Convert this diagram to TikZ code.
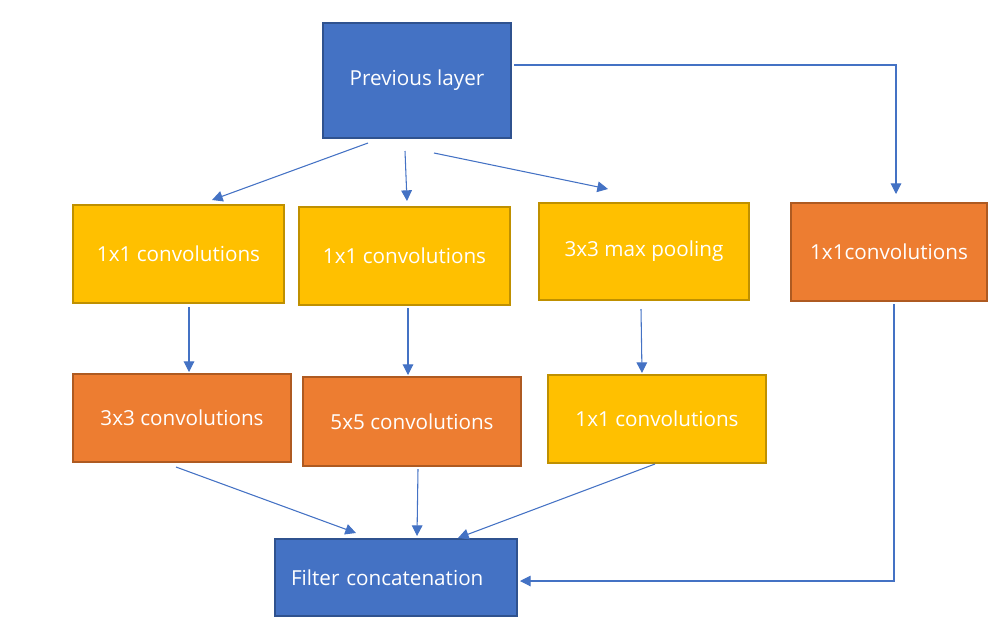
\documentclass[tikz,border=0pt]{standalone}
\usepackage{fontspec}
\setmainfont{Open Sans}
\usetikzlibrary{calc,arrows.meta}
\definecolor{bfill}{HTML}{4472C4}
\definecolor{bdraw}{HTML}{2F528F}
\definecolor{yfill}{HTML}{FFC000}
\definecolor{ydraw}{HTML}{BF9000}
\definecolor{ofill}{HTML}{ED7D31}
\definecolor{odraw}{HTML}{AE5A21}
\tikzset{
  box/.style={rectangle, line width=1.5pt, text=white, font=\fontsize{15.5}{18}\selectfont, inner sep=0pt},
  bluebox/.style={box, fill=bfill, draw=bdraw},
  yelbox/.style={box, fill=yfill, draw=ydraw},
  orbox/.style={box, fill=ofill, draw=odraw},
  arr/.style={draw=bfill, line width=0.8pt, -{Triangle[length=8pt,width=8pt]}},
}
\begin{document}
\begin{tikzpicture}[x=0.75pt,y=-0.75pt]
\useasboundingbox (0,0) rectangle (1003,640);
\node[bluebox, minimum width=188*0.75pt, minimum height=115*0.75pt] (prev) at (417,80.5) {Previous layer};
\node[yelbox, minimum width=211*0.75pt, minimum height=98*0.75pt] (c1) at (178.5,254) {1x1 convolutions};
\node[yelbox, minimum width=211*0.75pt, minimum height=98*0.75pt] (c2) at (404.5,256) {1x1 convolutions};
\node[yelbox, minimum width=210*0.75pt, minimum height=97*0.75pt] (pool) at (644,251.5) {3x3 max pooling};
\node[orbox, minimum width=196*0.75pt, minimum height=98*0.75pt] (r1) at (889,252) {1x1convolutions};
\node[orbox, minimum width=218*0.75pt, minimum height=88*0.75pt] (c3) at (182,418) {3x3 convolutions};
\node[orbox, minimum width=218*0.75pt, minimum height=89*0.75pt] (c5) at (412,421.5) {5x5 convolutions};
\node[yelbox, minimum width=218*0.75pt, minimum height=88*0.75pt] (c1b) at (657,419) {1x1 convolutions};
\node[bluebox, minimum width=242*0.75pt, minimum height=77*0.75pt, text width=210*0.75pt, align=left] (fc) at (396,577.5) {Filter concatenation};

\draw[arr] ($(prev.south)+(-49,4)$) -- ($(c1.north)+(33.5,-4)$);
\draw[arr] ($(prev.south)+(-12,12)$) -- ($(c2.north)+(2.5,-5)$);
\draw[arr] ($(prev.south)+(17,14)$) -- ($(pool.north)+(-36,-13)$);
\draw[arr] ($(prev.east)+(2,-15.5)$) -| ($(r1.north)+(7,-8)$);
\draw[arr] ($(c1.south)+(10.5,3)$) -- ($(c3.north)+(7,-1)$);
\draw[arr] ($(c2.south)+(3.5,2)$) -- ($(c5.north)+(-4,-1)$);
\draw[arr] ($(pool.south)+(-3,8)$) -- ($(c1b.north)+(-15,-1)$);
\draw[arr] ($(c3.south)+(-6,4)$) -- ($(fc.north)+(-40,-5)$);
\draw[arr] ($(c5.south)+(6,2)$) -- ($(fc.north)+(21,-2)$);
\draw[arr] ($(c1b.south)+(-2,0)$) -- ($(fc.north)+(62,0)$);
\draw[arr] ($(r1.south)+(5,2)$) |- ($(fc.east)+(2,3.5)$);
\end{tikzpicture}
\end{document}
